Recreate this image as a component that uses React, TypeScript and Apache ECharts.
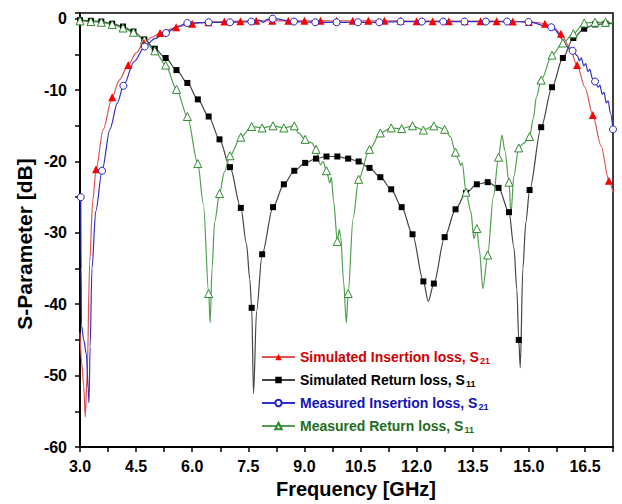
import React, { useEffect, useRef } from "react";
import * as echarts from "echarts";

type P = [number, number];

// Simulated insertion loss S21 (red, filled triangles)
const simS21Markers: P[] = [
  [3.43, -21.1], [3.86, -11.0], [4.29, -6.5], [4.71, -3.4], [5.14, -2.0], [5.57, -1.2],
  [6.0, -0.7], [6.43, -0.5], [6.86, -0.4], [7.29, -0.35], [7.71, -0.3], [8.14, -0.3],
  [8.57, -0.3], [9.0, -0.3], [9.43, -0.3], [9.86, -0.3], [10.29, -0.3], [10.71, -0.3],
  [11.14, -0.3], [11.57, -0.3], [12.0, -0.35], [12.43, -0.35], [12.86, -0.35], [13.29, -0.35],
  [13.71, -0.35], [14.14, -0.35], [14.57, -0.4], [15.0, -0.45], [15.43, -0.7], [15.86, -2.1],
  [16.29, -6.5], [16.71, -13.5], [17.14, -22.7],
];
const simS21Extra: P[] = [
  [3.0, -44], [3.04, -48], [3.1, -51.5], [3.14, -55.8], [3.19, -50], [3.26, -34], [3.34, -25.5],
  [3.62, -15.5], [4.05, -8.6], [4.5, -4.8], [4.92, -2.6], [15.2, -0.5], [15.65, -1.2],
  [16.08, -3.9], [16.5, -9.6], [16.93, -17.8], [17.25, -24.3],
];

// Simulated return loss S11 (black, filled squares)
const simS11Markers: P[] = [
  [3.0, -0.2], [3.29, -0.3], [3.57, -0.4], [3.86, -0.7], [4.15, -1.1], [4.43, -1.8],
  [4.72, -2.9], [5.0, -4.2], [5.29, -5.5], [5.58, -7.2], [5.87, -9.0], [6.15, -11.3],
  [6.44, -13.7], [6.73, -16.9], [7.01, -20.8], [7.3, -26.5], [7.59, -40.5], [7.87, -33],
  [8.16, -26.4], [8.45, -23.2], [8.73, -21.3], [9.02, -20.2], [9.31, -19.6], [9.59, -19.3],
  [9.88, -19.3], [10.17, -19.6], [10.45, -20.0], [10.74, -20.9], [11.03, -22.2], [11.32, -23.9],
  [11.6, -26.4], [11.89, -30.2], [12.18, -36.8], [12.46, -37.1], [12.75, -30.6], [13.04, -26.7],
  [13.32, -24.4], [13.61, -23.2], [13.9, -22.9], [14.19, -23.7], [14.47, -27.1], [14.73, -45],
  [15.02, -24], [15.33, -15.2], [15.62, -9.6], [15.91, -5.5], [16.19, -2.7], [16.48, -1.4],
  [16.77, -0.8], [17.05, -0.7],
];
const simS11Extra: P[] = [
  [7.45, -31.5], [7.54, -36.5], [7.64, -52.5], [7.72, -41], [12.31, -39.6],
  [14.6, -32], [14.68, -38], [14.77, -48.9], [14.84, -35], [14.92, -28.5], [17.25, -0.7],
];

// Measured insertion loss S21 (blue, open circles)
const meaS21Markers: P[] = [
  [3.02, -25], [3.59, -21.3], [4.16, -9.4], [4.73, -3.9], [5.3, -2.0], [5.87, -0.6],
  [6.44, -0.5], [7.01, -0.5], [7.58, -0.4], [8.15, 0.0], [8.72, -0.4], [9.29, -0.5],
  [9.86, -0.5], [10.43, -0.5], [11.0, -0.5], [11.57, -0.4], [12.14, -0.4], [12.71, -0.4],
  [13.28, -0.4], [13.85, -0.4], [14.42, -0.4], [14.99, -0.45], [15.6, -1.2], [16.17, -4.5],
  [16.77, -8.8], [17.25, -15.5],
];
const meaS21Extra: P[] = [
  [3.03, -35], [3.04, -43], [3.1, -45], [3.17, -47], [3.22, -52], [3.24, -53.8], [3.27, -46],
  [3.32, -35], [3.42, -27], [3.8, -15.5], [4.0, -11.8], [4.45, -6.0], [5.0, -2.8], [5.6, -1.1],
  [7.8, -0.2], [7.9, -0.5], [8.0, -0.1], [16.3, -5.2], [16.35, -5.9], [16.4, -5.5], [16.47, -6.6],
  [16.52, -6.3], [16.58, -7.4], [16.63, -7.1], [16.7, -8.4], [16.85, -9.6], [16.9, -9.3],
  [16.96, -10.6], [17.01, -10.3], [17.07, -11.8], [17.12, -11.5], [17.18, -13.2],
];

// Measured return loss S11 (green, open triangles)
const meaS11Markers: P[] = [
  [3.0, -0.3], [3.29, -0.4], [3.57, -0.5], [3.86, -0.8], [4.15, -1.3], [4.43, -1.9],
  [4.72, -3.0], [5.0, -4.5], [5.29, -6.5], [5.58, -9.9], [5.87, -13.7], [6.15, -20.3],
  [6.44, -38.5], [6.73, -24.5], [7.01, -19.2], [7.3, -16.6], [7.59, -15.1], [7.87, -15.3],
  [8.16, -15.0], [8.45, -15.3], [8.73, -15.0], [9.02, -16.9], [9.31, -18.3], [9.59, -21.3],
  [9.88, -31.2], [10.17, -38.5], [10.45, -22.5], [10.74, -18.3], [11.03, -16.0], [11.32, -15.3],
  [11.6, -15.4], [11.89, -15.0], [12.18, -15.6], [12.46, -15.0], [12.75, -15.5], [13.04, -18.7],
  [13.32, -24.3], [13.61, -29.4], [13.9, -33.1], [14.19, -19.4], [14.47, -22.9], [14.73, -18.1],
  [15.02, -16.5], [15.33, -8.6], [15.62, -5.1], [15.91, -3.4], [16.19, -2.1], [16.48, -0.6],
  [16.77, -0.5], [17.05, -0.5],
];
const meaS11Extra: P[] = [
  [6.3, -26], [6.48, -42.6], [6.53, -35], [6.6, -28.5], [6.86, -21.5],
  [8.84, -16.0], [9.1, -17.2], [9.2, -17.4], [9.43, -20.5], [9.5, -20.0], [9.68, -23.0],
  [9.72, -22.2], [9.78, -25.5], [9.93, -29.5], [9.97, -30.5], [10.05, -37], [10.12, -42.6],
  [10.3, -28], [12.9, -16.5], [13.12, -19.8], [13.18, -20.6], [13.22, -20.2], [13.45, -27],
  [13.53, -30.8], [13.68, -32.5], [13.77, -37.8], [14.05, -25], [14.28, -16.3], [14.36, -18.5],
  [14.52, -27.5], [14.6, -22], [14.85, -17.5], [15.12, -14], [15.2, -11], [17.25, -0.6],
];

const names = [
  "Simulated Insertion loss, S21",
  "Simulated Return loss, S11",
  "Measured Insertion loss, S21",
  "Measured Return loss, S11",
];
const textColors = ["#d00000", "#000000", "#1414b4", "#1e6e1e"];

const FONT = "Liberation Sans, Arial, Helvetica, sans-serif";

function build(markers: P[], extra: P[]) {
  const pts: any[] = [
    ...markers.map((p) => ({ value: p })),
    ...extra.map((p) => ({ value: p, symbol: "none" })),
  ];
  pts.sort((a, b) => a.value[0] - b.value[0]);
  return pts;
}

export default function App() {
  const ref = useRef<HTMLDivElement>(null);
  useEffect(() => {
    if (!ref.current) return;
    const chart = echarts.init(ref.current, undefined, { renderer: "svg" });
    const common = {
      type: "line",
      smooth: 0.3,
      smoothMonotone: "x",
      showSymbol: true,
      showAllSymbol: true,
      emphasis: { disabled: true },
      z: 3,
    };
    chart.setOption({
      animation: false,
      backgroundColor: "#fff",
      grid: {
        left: 80, right: 9, top: 13, bottom: 57,
        show: true, borderColor: "#000", borderWidth: 1.5, backgroundColor: "transparent",
      },
      xAxis: {
        type: "value", min: 3, max: 17.25, interval: 0.75,
        axisLine: { show: true, onZero: false, lineStyle: { color: "#000", width: 2 } },
        axisTick: { show: true, length: 5, lineStyle: { color: "#000", width: 1.5 } },
        splitLine: { show: false },
        axisLabel: {
          margin: 11, color: "#000", fontSize: 16, fontWeight: "bold", fontFamily: FONT,
          formatter: (v: number) => (Math.abs(v / 1.5 - Math.round(v / 1.5)) < 1e-6 ? v.toFixed(1) : ""),
        },
      },
      yAxis: {
        type: "value", min: -60, max: 0.8, interval: 5,
        axisLine: { show: true, onZero: false, lineStyle: { color: "#000", width: 2 } },
        axisTick: { show: true, length: 5, lineStyle: { color: "#000", width: 1.5 } },
        splitLine: { show: false },
        axisLabel: {
          margin: 13, color: "#000", fontSize: 16, fontWeight: "bold", fontFamily: FONT,
          formatter: (v: number) => (Math.abs(v % 10) < 1e-6 ? String(v) : ""),
        },
      },
      legend: {
        orient: "vertical", left: 261, top: 348, padding: 0,
        itemWidth: 33, itemHeight: 8, itemGap: 6,
        textStyle: { fontFamily: FONT, fontSize: 14, fontWeight: "bold", lineHeight: 16 },
        formatter: (name: string) => {
          const m = name.match(/^(.*S)(\d\d)$/);
          return m ? `{t|${m[1]}}{sub|${m[2]}}` : `{t|${name}}`;
        },
        data: names.map((n, i) => ({
          name: n,
          textStyle: {
            color: textColors[i],
            fontWeight: "bold",
            fontFamily: FONT,
            fontSize: 14,
            rich: {
              t: { color: textColors[i], fontSize: 14, fontWeight: "bold", fontFamily: FONT, lineHeight: 16 },
              sub: { color: textColors[i], fontSize: 9, fontWeight: "bold", fontFamily: FONT, verticalAlign: "bottom", lineHeight: 10, padding: [8, 0, 0, 1] },
            },
          },
        })),
      },
      graphic: [
        {
          type: "text", x: 356, y: 489,
          style: { text: "Frequency [GHz]", font: `bold 20px ${FONT}`, fill: "#000", align: "center", verticalAlign: "middle", textAlign: "center", textVerticalAlign: "middle" },
        },
        {
          type: "text", x: 24, y: 244, rotation: Math.PI / 2,
          style: { text: "S-Parameter [dB]", font: `bold 21px ${FONT}`, fill: "#000", align: "center", verticalAlign: "middle", textAlign: "center", textVerticalAlign: "middle" },
        },
      ],
      series: [
        {
          ...common, name: names[1], data: build(simS11Markers, simS11Extra),
          symbol: "rect", symbolSize: 6,
          itemStyle: { color: "#000" }, lineStyle: { color: "#444", width: 1.2 },
        },
        {
          ...common, name: names[3], data: build(meaS11Markers, meaS11Extra),
          symbol: "triangle", symbolSize: 8,
          itemStyle: { color: "#fff", borderColor: "#2f8a2f", borderWidth: 1 },
          lineStyle: { color: "#4f9f4f", width: 1.2 },
        },
        {
          ...common, name: names[0], data: build(simS21Markers, simS21Extra),
          symbol: "triangle", symbolSize: 8,
          itemStyle: { color: "#ff0000" }, lineStyle: { color: "#e05050", width: 1.2 },
        },
        {
          ...common, name: names[2], data: build(meaS21Markers, meaS21Extra),
          symbol: "circle", symbolSize: 7,
          itemStyle: { color: "#fff", borderColor: "#2020cc", borderWidth: 1 },
          lineStyle: { color: "#3030cc", width: 1.2 },
        },
      ],
    });
    return () => chart.dispose();
  }, []);
  return (
    <div
      ref={ref}
      style={{ position: "absolute", left: 0, top: 0, width: 622, height: 504 }}
    />
  );
}
